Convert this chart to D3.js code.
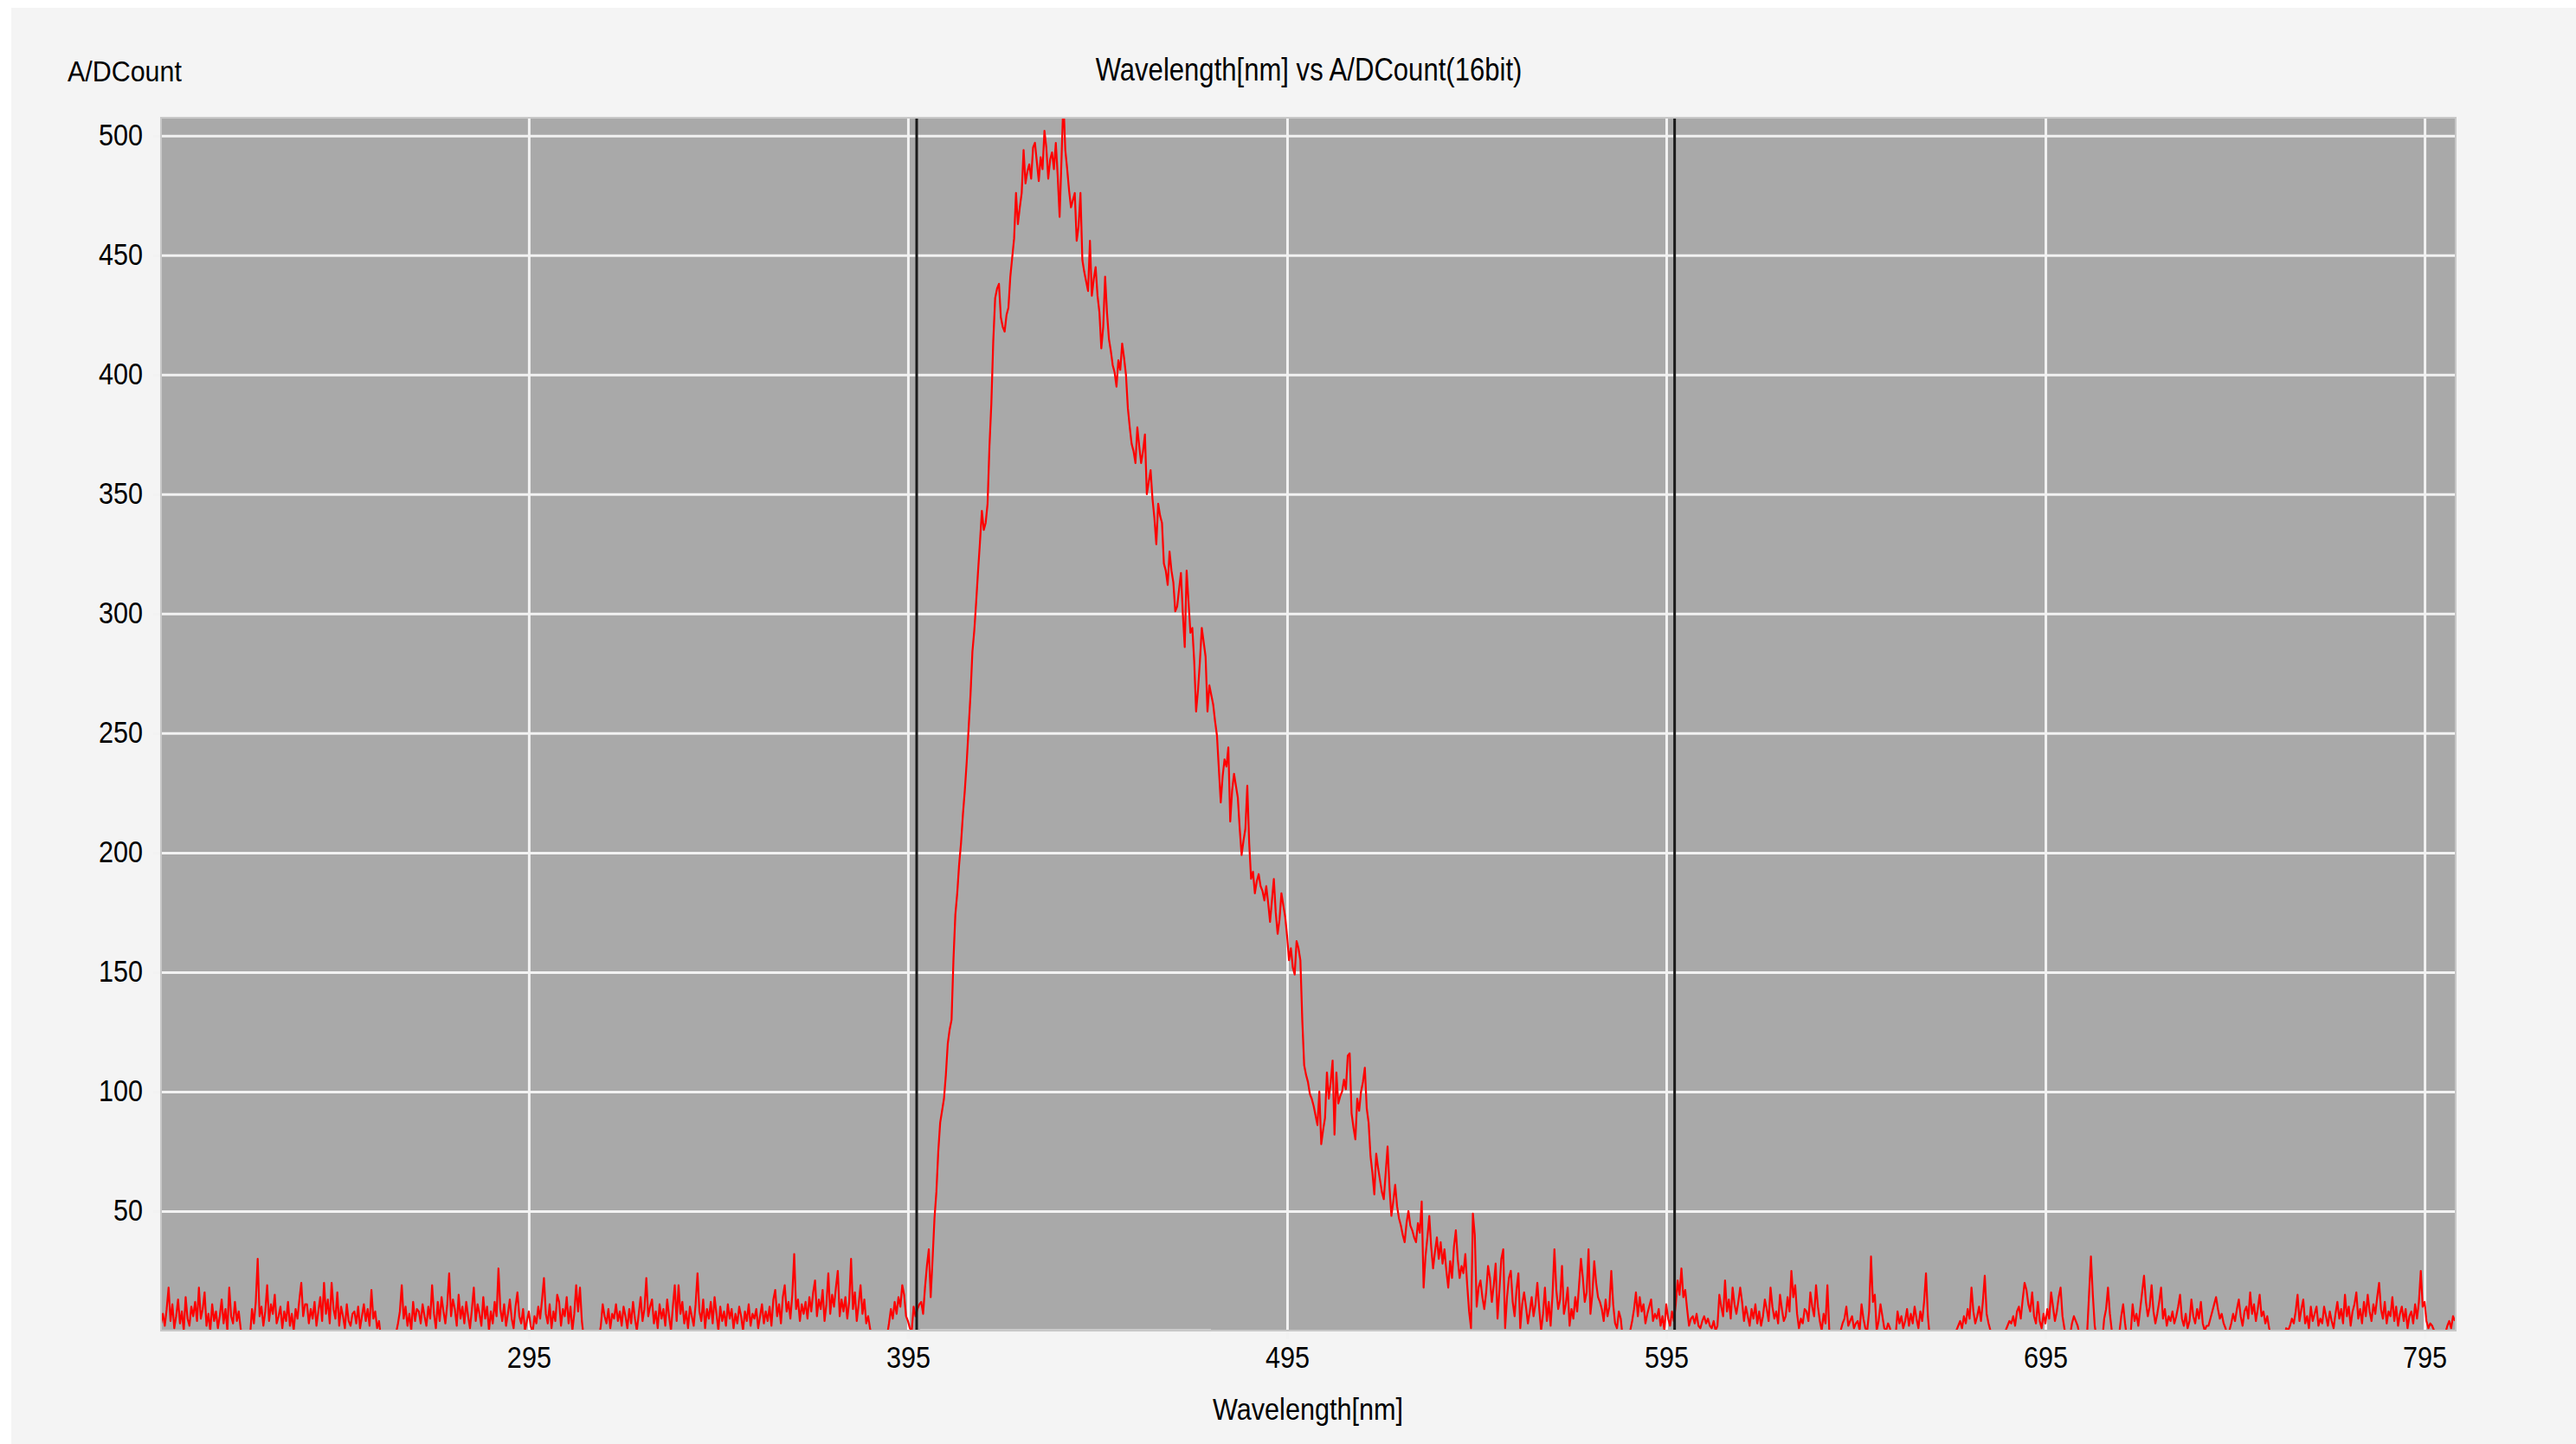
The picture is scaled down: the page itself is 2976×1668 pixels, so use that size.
<!DOCTYPE html>
<html>
<head>
<meta charset="utf-8">
<script src="https://cdn.jsdelivr.net/npm/d3@7"></script>
<style>
  html, body { margin: 0; padding: 0; background: #ffffff; }
  svg { display: block; }
</style>
</head>
<body>
<div id="chart"></div>
<script>
// Spectrum: A/D counts sampled every 0.5 nm starting at 198 nm
const wlStart = 198;
const wlStep = 0.5;
const counts = [
  3, 7, 2, 9, 18, 4, 11, 1, 6, 13, 3, 8, 0, 14, 5, 2, 10, 6, 12, 4,            // 198
  18, 5, 9, 16, 2, 7, 0, 11, 4, 8, 1, 6, 13, 3, 9, 0, 18, 6, 3, 12,            // 208
  4, 8, 1, -4, -7, -3, -6, -2, 9, 3, 12, 30, 6, 10, 2, 8, 19, 4, 11, 7,        // 218
  15, 3, 6, 10, 1, 8, 4, 12, 2, 7, 0, 9, 5, 13, 20, 6, 11, 11, 3, 9,           // 228
  5, 12, 2, 8, 14, 4, 20, 7, 13, 3, 20, 9, 5, 16, 2, 10, 6, 1, 11, 4,          // 238
  2, 7, 8, 3, 10, 1, 6, 11, 4, 9, 2, 17, 5, 8, 1, 4, -3, -6, -2, -5,           // 248
  -4, -7, -2, -5, -1, 3, 8, 19, 5, 10, 2, 7, 0, 12, 4, 9, 8, 3, 11, 6,         // 258
  2, 10, 5, 19, 7, 1, 12, 4, 14, 8, 3, 11, 24, 6, 13, 9, 2, 15, 5, 10,         // 268
  3, 12, 6, 1, 9, 18, 4, 11, 7, 2, 14, 5, 10, 0, 8, 3, 12, 6, 26, 9,           // 278
  4, 11, 2, 7, 13, 5, 1, 10, 16, 6, 3, 9, 0, 4, 8, 2, -1, 6, 3, 10,            // 288
  5, 13, 22, 7, 3, 11, 1, 8, 4, 15, 12, 2, 9, 6, 14, 3, 10, 0, 7, 19,          // 298
  8, 18, 4, -3, -6, -2, -5, -8, -4, -1, -6, -3, 2, 11, 6, 3, 9, 1, 7, 5,       // 308
  11, 4, 8, 2, 10, 6, 1, 9, 3, 12, 5, 0, 7, 14, 4, 9, 22, 6, 10, 13,           // 318
  3, 8, 1, 11, 5, 9, 2, 13, 6, 0, 10, 19, 4, 19, 7, 12, 3, 8, 1, 10,           // 328
  6, 2, 11, 24, 8, 4, 13, 1, 9, 5, 12, 3, 14, 7, 0, 10, 4, 8, 2, 11,           // 338
  5, 9, 1, 7, 3, 10, 6, 0, 8, 4, 11, 2, 7, 5, 9, 1, 6, 11, 3, 8,               // 348
  4, 10, 2, 13, 17, 6, 11, 3, 14, 19, 8, 12, 5, 15, 32, 9, 13, 4, 11, 7,       // 358
  12, 5, 14, 8, 16, 21, 6, 13, 9, 17, 4, 11, 24, 7, 15, 10, 18, 25, 6, 13,     // 368
  8, 14, 5, 12, 30, 9, 16, 4, 11, 19, 7, 13, 3, 6, 1, -3, -6, -2, -5, -8,      // 378
  -4, -1, -6, -2, 3, 9, 5, 12, 7, 14, 10, 19, 15, 6, 4, 1, 0, 10, 6, 9,        // 388
  11, 12, 7, 18, 27, 34, 14, 30, 47, 58, 75, 87, 92, 97, 107, 120, 126, 130, 155, 174,            // 398
  183, 195, 204, 216, 226, 238, 252, 266, 284, 293, 305, 318, 330, 343, 335, 338, 346, 370, 388, 414, // 408
  432, 436, 438, 424, 420, 418, 425, 428, 441, 449, 457, 476, 463, 470, 476, 494, 480, 485, 488, 482, // 418
  495, 497, 489, 481, 491, 486, 502, 495, 482, 490, 493, 486, 497, 483, 466, 490, 515, 494, 486, 477, // 428
  470, 473, 476, 456, 462, 476, 448, 443, 439, 435, 456, 433, 440, 445, 433, 426, 411, 420, 441, 426, // 438
  415, 410, 404, 401, 395, 406, 402, 413, 407, 400, 386, 378, 371, 368, 363, 378, 370, 363, 368, 375, // 448
  350, 355, 360, 348, 340, 329, 346, 341, 338, 321, 318, 312, 326, 318, 313, 301, 303, 310, 317, 300, // 458
  286, 318, 305, 292, 294, 280, 259, 268, 280, 294, 288, 282, 259, 270, 266, 262, 255, 249, 235, 221, // 468
  232, 239, 236, 244, 213, 226, 233, 228, 223, 210, 199, 205, 210, 228, 204, 189, 192, 183, 188, 191, // 478
  186, 184, 180, 186, 179, 171, 180, 189, 175, 166, 172, 183, 178, 173, 165, 155, 160, 152, 149, 163, // 488
  160, 155, 130, 111, 107, 104, 99, 97, 94, 90, 86, 100, 78, 84, 89, 108, 97, 104, 113, 82,           // 498
  108, 95, 98, 100, 105, 101, 115, 116, 91, 85, 80, 97, 92, 100, 104, 110, 93, 87, 73, 66,            // 508
  57, 74, 68, 63, 58, 55, 66, 77, 60, 48, 54, 61, 52, 47, 44, 40, 37, 45, 50, 44,              // 518
  42, 39, 37, 45, 41, 54, 18, 31, 39, 48, 35, 26, 33, 39, 30, 37, 28, 34, 25, 18,              // 528
  29, 22, 35, 42, 30, 22, 27, 24, 32, 19, 8, 1, 49, 40, 10, 18, 21, 14, 9, 16,                 // 538
  27, 22, 12, 19, 28, 5, 17, 30, 34, 1, 14, 22, 25, 12, 6, 17, 24, 1, 11, 16,                  // 548
  10, 3, 8, 14, 6, 11, 20, 9, 0, 7, 18, 4, 12, 2, 15, 34, 17, 9, 13, 27,                       // 558
  7, 11, 18, 2, 9, 5, 14, 8, 19, 30, 22, 12, 16, 34, 7, 15, 29, 20, 14, 12,                    // 568
  9, 4, 13, 6, 10, 25, 11, 3, 1, 8, 5, -3, -6, -2, -4, 0, 4, 9, 16, 6,                         // 578
  14, 8, 11, 3, 7, 10, 13, 4, 7, 5, 9, 2, 6, 0, 11, 5, 2, 8, 4, 11,                            // 588
  21, 15, 26, 14, 17, 9, 2, 5, 6, 3, 7, 2, 1, 4, 6, 3, 5, 2, 1, 4,                             // 598
  0, 2, 15, 10, 6, 21, 8, 13, 5, 18, 11, 7, 12, 18, 12, 4, 10, 6, 2, 9,                        // 608
  5, 11, 3, 8, 2, 6, 13, 9, 4, 18, 10, 5, 8, 3, 15, 9, 4, 6, 14, 8,                            // 618
  25, 14, 19, 7, 1, 5, 3, 9, 8, 4, 16, 10, 6, 19, 10, 4, 0, 7, 3, 19,                          // 628
  0, -3, -5, -2, -6, -3, 0, 3, 5, 10, 2, 4, 6, 1, 3, 4, 0, 11, 5, 1,                           // 638
  0, 8, 31, 12, 15, 0, 4, 11, 6, 1, 0, 3, 1, -4, -6, -2, 8, 3, 6, 1,                           // 648
  4, 9, 2, 7, 3, 10, 5, 1, 8, 4, 12, 24, 6, -3, -6, -2, -5, -8, -4, -1,                        // 658
  -5, -3, -7, -2, -4, -6, -1, 0, 2, 4, 1, 6, 3, 9, 5, 18, 8, 3, 6, 10,                         // 668
  4, 12, 23, 7, 3, 0, -4, -2, -6, -3, -5, -1, -4, 0, 2, 4, 3, 6, 2, 8,                         // 678
  10, 5, 13, 20, 17, 11, 8, 16, 6, 3, 12, 4, 1, 7, 3, 9, 5, 16, 10, 4,                         // 688
  8, 14, 18, 6, 1, -3, -5, -2, 3, 6, 4, 2, -2, -5, -3, -6, -1, 15, 31, 15,                     // 698
  2, -3, -5, -2, -4, 5, 9, 18, 7, 0, -4, -6, -2, -1, 6, 11, 3, -3, -5, -1,                     // 708
  11, 4, 7, 2, 9, 16, 23, 12, 6, 10, 19, 8, 3, 7, 12, 18, 5, 9, 2, 6,                          // 718
  4, 8, 3, 6, 10, 15, 5, 2, 7, 1, 4, 13, 6, 3, 9, 5, 12, 3, 0, 2,                              // 728
  2, 5, 8, 11, 14, 9, 5, 7, 3, 1, -2, 0, 3, 7, 4, 9, 13, 6, 2, 8,                              // 738
  10, 5, 16, 7, 11, 4, 9, 15, 6, 8, 3, 6, 1, -2, -5, -3, -7, -4, -6, -2,                       // 748
  -3, 1, 0, 2, 5, 3, 8, 15, 4, 9, 13, 3, 6, 1, 10, 4, 7, 10, 2, 5,                             // 758
  3, 10, 6, 2, 8, 4, 1, 7, 12, 5, 9, 3, 15, 6, 10, 2, 8, 11, 16, 5,                            // 768
  9, 3, 12, 6, 15, 8, 4, 11, 7, 14, 20, 9, 5, 12, 3, 8, 6, 14, 4, 10,                          // 778
  2, 7, 10, 4, 9, 1, 6, 8, 3, 11, 5, 12, 25, 10, 12, 4, 1, 3, 2, 0,                            // 788
  -2, -5, -3, -6, -4, -1, 2, 4, 1, 6, 4                                                        // 798
];

const xTicks = [295, 395, 495, 595, 695, 795];
const yTicks = [50, 100, 150, 200, 250, 300, 350, 400, 450, 500];
const xDomain = [198, 803.2];
const yDomain = [0, 507.5];
const cursorNm = [397.3, 597.2];        // black marker lines
const baseMarkNm = [398.2, 474.9];      // light segment on the baseline

const W = 2976, H = 1668;
const plot = { x0: 186, x1: 2837, y0: 136, y1: 1537 };
const FONT = '"Liberation Sans", Arial, sans-serif';
const sx = 0.875;   // the reference text is horizontally squeezed

const svg = d3.select("#chart").append("svg")
    .attr("width", W)
    .attr("height", H);

// panel background
svg.append("rect")
    .attr("x", 13).attr("y", 9)
    .attr("width", W - 13).attr("height", H - 9)
    .attr("fill", "#f4f4f4");

const x = d3.scaleLinear().domain(xDomain).range([plot.x0, plot.x1]);
const y = d3.scaleLinear().domain(yDomain).range([plot.y1, plot.y0]);

// plot area
svg.append("rect")
    .attr("x", plot.x0).attr("y", plot.y0)
    .attr("width", plot.x1 - plot.x0).attr("height", plot.y1 - plot.y0)
    .attr("fill", "#a9a9a9");

// y grid + ticks
const gy = svg.append("g")
    .attr("transform", `translate(${plot.x0},0)`)
    .call(d3.axisLeft(y).tickValues(yTicks)
        .tickSizeInner(-(plot.x1 - plot.x0)).tickSizeOuter(0));
gy.attr("font-family", null).attr("font-size", null);
gy.select(".domain").remove();
gy.selectAll(".tick line")
    .attr("x1", -9)
    .attr("stroke", "#f2f2f2")
    .attr("stroke-width", 3);
gy.selectAll(".tick text")
    .attr("x", -21 / sx)
    .attr("dy", "0.3em")
    .attr("transform", `scale(${sx},1)`)
    .attr("fill", "#000")
    .style("font-family", FONT)
    .style("font-size", "35px");

// x grid + ticks
const gx = svg.append("g")
    .attr("transform", `translate(0,${plot.y1})`)
    .call(d3.axisBottom(x).tickValues(xTicks)
        .tickSizeInner(-(plot.y1 - plot.y0)).tickSizeOuter(0));
gx.attr("font-family", null).attr("font-size", null);
gx.select(".domain").remove();
gx.selectAll(".tick line")
    .attr("y1", 10)
    .attr("stroke", "#f2f2f2")
    .attr("stroke-width", 3);
gx.selectAll(".tick text")
    .attr("y", 43)
    .attr("dy", 0)
    .attr("transform", `scale(${sx},1)`)
    .attr("fill", "#000")
    .style("font-family", FONT)
    .style("font-size", "35px");

// clip for the series
svg.append("clipPath").attr("id", "plotClip")
  .append("rect")
    .attr("x", plot.x0).attr("y", plot.y0)
    .attr("width", plot.x1 - plot.x0).attr("height", plot.y1 - plot.y0);

// light segment on the baseline
svg.append("line")
    .attr("x1", x(baseMarkNm[0])).attr("x2", x(baseMarkNm[1]))
    .attr("y1", y(0)).attr("y2", y(0))
    .attr("stroke", "#eeeeee")
    .attr("stroke-width", 3);

// spectrum line
const points = counts.map((c, i) => ({ wl: wlStart + i * wlStep, c: c }));
const line = d3.line()
    .x(d => x(d.wl))
    .y(d => y(d.c));

svg.append("path")
    .datum(points)
    .attr("clip-path", "url(#plotClip)")
    .attr("d", line)
    .attr("fill", "none")
    .attr("stroke", "#ff0000")
    .attr("stroke-width", 2.2)
    .attr("stroke-linejoin", "round");

// cursor lines
svg.append("g")
    .selectAll("line")
    .data(cursorNm)
    .enter().append("line")
    .attr("x1", d => x(d)).attr("x2", d => x(d))
    .attr("y1", plot.y0).attr("y2", plot.y1)
    .attr("stroke", "#1a1a1a")
    .attr("stroke-width", 3);

// plot border
svg.append("rect")
    .attr("x", plot.x0).attr("y", plot.y0)
    .attr("width", plot.x1 - plot.x0).attr("height", plot.y1 - plot.y0)
    .attr("fill", "none")
    .attr("stroke", "#c8c8c8")
    .attr("stroke-width", 2);

// labels
function label(txt, px, py, anchor, size, scaleX) {
    svg.append("g")
        .attr("transform", `translate(${px},${py})`)
      .append("text")
        .attr("transform", `scale(${scaleX},1)`)
        .attr("text-anchor", anchor)
        .attr("fill", "#000")
        .style("font-family", FONT)
        .style("font-size", size + "px")
        .text(txt);
}

label("Wavelength[nm] vs A/DCount(16bit)", 1512, 93, "middle", 37, 0.84);
label("A/DCount", 78, 94, "start", 34, 0.895);
label("Wavelength[nm]", 1511, 1640, "middle", 35, sx);
</script>
</body>
</html>
